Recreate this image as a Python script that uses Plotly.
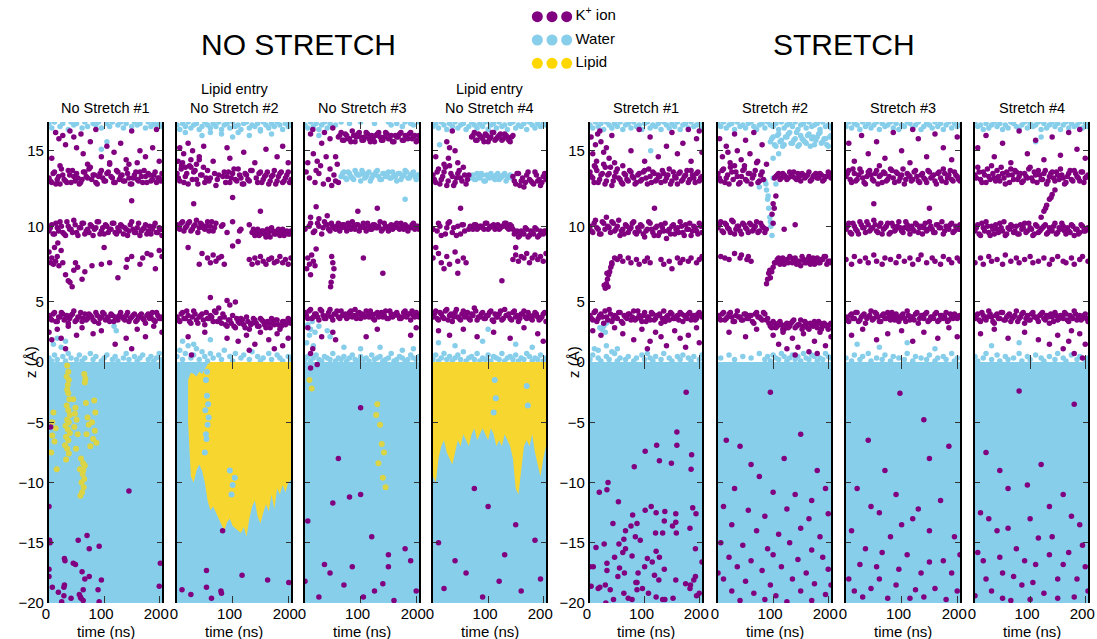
import plotly.graph_objects as go

FONT = "Liberation Sans, Arial, sans-serif"
ION = "#800080"
WATER = "#87CEEB"
LIPID = "#FFD700"
W, H = 1097, 639

# ---------------- data ----------------
T_GRID = [0, 5, 10, 15, 20, 25, 30, 35, 40, 45, 50, 55, 60, 65, 70, 75, 80, 85, 90, 95, 100,
          105, 110, 115, 120, 125, 130, 135, 140, 145, 150, 155, 160, 165, 170, 175, 180, 185, 190, 195, 200, 205]
T_GRID_B = [2.5, 7.5, 12.5, 17.5, 22.5, 27.5, 32.5, 37.5, 42.5, 47.5, 52.5, 57.5, 62.5, 67.5, 72.5, 77.5, 82.5,
            87.5, 92.5, 97.5, 102.5, 107.5, 112.5, 117.5, 122.5, 127.5, 132.5, 137.5, 142.5, 147.5, 152.5, 157.5,
            162.5, 167.5, 172.5, 177.5, 182.5, 187.5, 192.5, 197.5, 202.5]
T_START, T_END = 0, 205
Z_BOTTOM, Z_INTERFACE = -20, 0
UPPER_Z = [1.03, 16.9]

PANEL_TITLES = ["No Stretch #1", "Lipid entry<br>No Stretch #2", "No Stretch #3", "Lipid entry<br>No Stretch #4",
                "Stretch #1", "Stretch #2", "Stretch #3", "Stretch #4"]
GROUP_TITLES = ["NO STRETCH", "STRETCH"]
LEGEND_LABELS = ["K<sup>+</sup> ion", "Water", "Lipid"]
X_TICKS = [0, 100, 200]

# ---- No Stretch #1 ----
NS1_W_TOP = [16.8, 16.5, 16.9, None, 16.6, 16.8, None, 16.4, 16.9, 16.7, 16.8, None, 16.5, 16.9, 16.6, None, 16.8, 16.7,
             16.9, 16.5, None, 16.8, 16.6, 16.9, None, 16.7, 16.9, 16.5, 16.8, None, 16.6, 16.9, 16.7, 16.8, None, 16.5,
             16.9, 16.6, 16.8, 16.7, 16.9, 16.6]
NS1_K13 = [13.2, 12.9, 13.6, 13.1, 12.8, 13.4, 13.0, 13.7, 12.9, 13.3, 13.5, 12.8, 13.1, 13.6, 13.2, 13.9, 13.4, 12.9,
           13.3, 13.7, 13.0, 13.5, 14.1, 13.2, 12.9, 13.6, 13.3, 13.0, 13.8, 13.2, 12.8, 13.4, 13.1, 13.6, 12.9, 13.3,
           13.5, 13.0, 13.4, 12.9, 13.2, 13.5]
NS1_K13B = [13.0, 13.5, 12.8, 13.3, 13.8, 13.1, 12.9, 13.4, 13.7, 13.0, 13.2, 12.9, 13.6, 13.3, 13.8, 13.1, 13.4, 12.8,
            13.5, 13.2, 13.0, 13.6, 13.3, 12.9, 13.7, 13.1, 13.4, 13.0, 13.5, 12.8, 13.2, 13.6, 13.0, 13.3, 13.7, 12.9,
            13.4, 13.1, 13.6, 13.2, 13.0]
NS1_K10 = [9.7, 10.1, 9.5, 9.9, 10.3, 9.6, 9.4, 10.0, 9.8, 10.4, 9.6, 9.9, 10.2, 9.5, 9.8, 10.1, 9.4, 9.9,
           10.3, 9.7, 9.5, 10.0, 9.8, 10.2, 9.6, 9.9, 10.1, 9.5, 9.8, 9.7, 10.3, 9.6, 9.9, 9.4, 9.8, 10.1,
           9.7, 9.5, 10.0, 9.6, 9.9, 9.4]
NS1_K10B = [9.9, 9.5, 10.2, 9.7, 10.0, 9.5, 10.3, 9.8, 9.6, 10.1, 9.4, 9.9, 10.2, 9.7, 9.6, 10.0, 9.8, 10.3,
            9.5, 9.9, 10.1, 9.6, 9.8, 10.2, 9.5, 9.7, 10.0, 9.9, 9.4, 10.1, 9.8, 9.6, 10.2, 9.7, 9.9, 9.5,
            10.0, 9.8, 10.2, 9.6, 9.8]
NS1_K4 = [4.1, 3.8, 4.3, 3.7, 4.0, 4.2, 3.9, 3.6, 4.1, 4.4, 3.8, 4.0, 3.7, 4.2, 3.9, 4.1, 3.8, 4.3,
          3.6, 4.0, 4.2, 3.9, 3.7, 4.1, 4.0, 3.8, 4.3, 3.9, 4.1, 3.7, 4.0, 4.2, 3.8, 4.1, 3.9, 3.6,
          4.2, 4.0, 3.8, 4.3, 3.9, 4.0]
NS1_K4B = [3.9, 4.2, 3.7, 4.0, 4.3, 3.8, 4.1, 3.9, 4.2, 3.7, 4.0, 4.3, 3.9, 3.8, 4.2, 4.0, 3.7, 4.1,
           3.9, 4.3, 3.8, 4.0, 4.2, 3.7, 3.9, 4.1, 4.0, 3.8, 4.3, 3.9, 4.1, 3.7, 4.0, 4.2, 3.8, 4.1,
           3.9, 4.3, 3.7, 4.1, 3.9]
NS1_W_BOT = [1.3, 1.1, 1.5, 1.2, None, 1.4, 1.1, 1.6, 1.3, None, 1.2, 1.5, 1.1, 1.3, None, 1.6, 1.2, 1.4,
             None, 1.1, 1.3, 1.5, None, 1.2, 1.4, 1.1, None, 1.3, 1.6, 1.2, None, 1.4, 1.1, 1.3, 1.5, None,
             1.2, 1.4, 1.1, 1.3, 1.6, 1.2]
NS1_K_UP = [(5, 14.5), (12, 16.2), (18, 15.8), (25, 16.0), (30, 15.4), (38, 16.3), (45, 15.9), (50, 15.2), (58, 16.1),
            (62, 14.8), (75, 15.6), (85, 16.4), (95, 14.6), (105, 15.3), (118, 14.9), (130, 15.5), (140, 14.4),
            (150, 16.3), (165, 15.0), (175, 14.6), (188, 15.2), (195, 16.4), (200, 14.3), (145, 14.1), (160, 14.2),
            (110, 14.2), (70, 14.1), (20, 14.0), (150, 11.7), (0, 8.3), (3, 7.6), (5, 7.9), (8, 7.5), (10, 8.6),
            (12, 7.7), (15, 8.0), (18, 7.4), (22, 8.4), (25, 7.6), (30, 6.8), (35, 6.4), (38, 6.3), (42, 6.0),
            (45, 7.1), (48, 7.6), (52, 7.3), (60, 6.5), (65, 7.0), (78, 7.4), (95, 7.5), (100, 8.6), (110, 7.6),
            (125, 6.6), (140, 7.3), (142, 7.8), (150, 8.0), (165, 7.5), (170, 7.9), (178, 8.2), (185, 8.1),
            (193, 7.2), (200, 8.4), (205, 8.0), (16, 8.9), (0, 3.0), (5, 2.5), (15, 3.2), (22, 2.6), (35, 3.4),
            (50, 2.8), (60, 3.3), (80, 2.9), (95, 3.1), (120, 2.2), (140, 2.6), (160, 3.2), (175, 2.7), (190, 3.4),
            (205, 3.0), (30, 1.9), (150, 1.9)]
NS1_W_UP = [(8, 2.2), (15, 2.6), (22, 2.0), (30, 2.4), (118, 3.4), (120, 3.8), (122, 3.1), (95, 15.1), (105, 15.6)]
NS1_K_LOW = [(3, -5.4), (0, -12.0), (1, -14.8), (2, -15.0), (53, -14.8), (69, -14.4), (73, -15.5), (91, -15.3),
             (145, -10.7), (202, -16.7), (200, -18.6), (28, -16.3), (29, -16.5), (44, -16.7), (48, -16.8),
             (0, -17.2), (0, -17.8), (60, -17.4), (65, -18.0), (73, -17.8), (95, -18.1), (6, -18.7), (28, -18.5),
             (27, -18.7), (62, -18.9), (89, -18.9), (17, -19.1), (27, -19.4), (55, -19.3), (57, -19.5), (58, -19.6),
             (40, -19.6), (91, -19.9), (23, -19.9), (62, -19.8)]
NS1_LIPID = [(33, -0.3), (35, -0.8), (32, -1.2), (36, -1.5), (34, -1.9), (33, -2.3), (35, -2.6), (37, -3.1),
             (32, -3.6), (35, -4.0), (38, -4.4), (33, -4.8), (36, -5.0), (30, -5.3), (34, -5.6), (38, -5.9),
             (31, -6.2), (35, -6.5), (29, -6.9), (33, -7.2), (36, -7.6), (31, -8.1), (8, -4.2), (12, -5.5),
             (6, -6.1), (10, -6.6), (4, -7.5), (14, -8.9), (6, -5.0), (44, -3.1), (48, -3.8), (50, -4.8),
             (46, -5.4), (52, -6.0), (49, -7.2), (47, -4.3), (58, -8.0), (62, -8.4), (56, -8.9), (61, -9.3),
             (64, -9.7), (59, -10.0), (63, -10.4), (60, -10.8), (57, -11.1), (62, -9.0), (65, -8.6), (64, -1.0),
             (66, -1.4), (65, -1.7), (67, -3.4), (70, -4.6), (72, -5.2), (68, -6.0), (80, -6.4), (84, -4.2),
             (83, -5.7), (82, -3.2), (86, -6.7), (75, -7.0), (78, -5.0)]

# ---- No Stretch #2 ----
NS2_W_TOP = [16.7, 16.4, 16.8, 16.6, 16.9, 16.5, 16.7, 16.8, 16.4, 16.6, 16.9, 16.7, 16.5, 16.8, 16.6, 16.9, 16.4, 16.7,
             16.8, 16.5, 16.9, 16.6, 16.7, 16.4, 16.8, 16.9, 16.5, 16.7, 16.6, 16.8, 16.4, 16.9, 16.7, 16.5, 16.8, 16.6,
             16.9, 16.7, 16.4, 16.8, 16.6, 16.9]
NS2_K13 = [13.5, 13.0, 14.2, 13.3, 12.8, 13.9, 13.6, 13.1, 14.4, 13.4, 12.9, 13.7, 13.2, None, 12.7, 13.4, None, 13.6,
           13.3, 12.9, 13.5, 13.1, 13.8, 13.2, 12.8, 13.4, 13.0, 13.7, None, 12.9, 13.6, 13.1, 13.4, 12.8, 13.3, 13.7,
           13.0, 13.5, 12.9, 13.2, 13.6, 13.1]
NS2_K13B = [13.2, 13.8, 12.9, 13.5, 14.0, 13.1, 13.7, 12.8, 13.4, 13.9, 13.2, 13.0, None, 13.5, 13.1, None, 13.3, 12.9,
            13.6, 13.2, 13.8, 13.0, 13.4, 12.8, 13.5, 13.1, 13.7, None, 13.2, 13.5, 12.9, 13.3, 13.6, 13.0, 13.4, 12.8,
            13.3, 13.6, 13.0, 13.4, 12.9]
NS2_K10 = [10.1, 9.8, 10.3, 9.9, 10.2, 9.7, 10.0, 10.4, 9.9, 10.1, 9.8, 10.3, 10.0, 9.7, 10.2, None, 10.0, None,
           9.6, None, 10.3, None, None, 9.8, None, None, 10.1, 9.6, 9.4, 9.8, 9.5, 9.7, 9.3, 9.6, 9.9, 9.5,
           9.7, 9.4, 9.8, 9.6, 9.5, 9.7]
NS2_K10B = [9.9, 10.2, 9.7, 10.0, 10.3, 9.8, 10.1, 9.6, 10.2, 9.9, 10.0, 9.7, 10.3, 9.9, None, None, 10.1, None,
            None, None, None, None, 9.7, None, None, None, None, 9.8, 9.6, 9.4, 9.7, 9.5, 9.8, 9.3, 9.7, 9.5,
            9.8, 9.6, 9.4, 9.7, 9.5]
NS2_K8 = [None, None, None, None, None, None, None, None, None, None, None, 7.9, 7.6, 8.1, 7.7, 7.9, 8.0, 7.5,
          None, None, None, None, None, None, None, None, 7.8, 7.5, 7.9, 7.6, 8.0, 7.7, 7.5, 7.8, 7.9, 7.6,
          7.7, 8.0, 7.6, 7.8, 7.5, 7.9]
NS2_K4 = [4.0, 3.7, 4.3, 3.9, 4.1, 3.6, 4.4, 3.8, 4.0, 4.2, 3.5, 3.9, 4.1, 3.7, 4.3, 4.6, 3.6, 4.0,
          3.4, 3.8, 4.1, 3.3, 3.7, 3.9, 3.5, 4.0, 3.2, 3.6, 3.8, 3.4, 3.9, 3.7, 3.3, 3.6, 3.9, 3.5,
          3.8, 3.2, 3.7, 3.5, 3.9, 3.6]
NS2_K4B = [3.8, 4.2, 3.9, 4.4, 3.7, 4.0, 4.2, 3.6, 4.1, 3.8, 4.3, 3.9, 4.0, 4.4, 3.7, 3.9, 4.2, 3.5,
           3.8, 3.6, 3.4, 3.9, 3.6, 3.8, 3.3, 3.7, 3.5, 3.9, 3.6, 3.4, 3.8, 3.5, 3.7, 3.3, 3.6, 3.8,
           3.5, 3.4, 3.7, 3.6, 3.8]
NS2_W_BOT = [1.4, 1.8, 1.2, 1.6, 2.1, 1.3, 1.5, 1.9, 1.2, 1.7, 1.4, 1.1, 1.6, 1.3, None, 1.5, 1.2, 1.8,
             None, 1.4, 1.1, 1.6, None, 1.3, 1.5, None, 1.2, 1.7, None, 1.4, 1.1, 1.3, None, 1.6, 1.2, None,
             1.5, 1.3, 1.1, None, 1.4, 1.2]
NS2_K_UP = [(2, 14.3), (5, 15.2), (8, 14.0), (12, 14.8), (15, 13.9), (20, 15.5), (25, 14.4), (28, 15.0), (35, 14.1),
            (40, 14.6), (48, 15.3), (65, 14.3), (90, 15.2), (95, 14.5), (120, 14.9), (140, 14.2), (160, 15.1),
            (180, 14.6), (200, 14.2), (190, 15.3), (30, 11.5), (100, 11.9), (150, 11.0), (20, 8.6), (45, 8.2),
            (100, 8.7), (110, 9.0), (40, 7.5), (90, 5.1), (95, 4.8), (105, 5.0), (60, 5.3), (20, 2.7), (50, 3.0),
            (90, 2.6), (110, 2.4), (125, 2.8), (140, 2.2), (150, 3.0), (165, 2.5), (180, 2.9), (190, 2.1),
            (200, 2.6), (130, 1.8), (175, 1.9), (26, 1.5)]
NS2_W_UP = [(45, 16.0), (60, 16.2), (80, 16.1), (100, 15.9), (110, 16.2), (130, 16.0), (150, 16.3), (15, 16.2),
            (170, 16.1), (10, 2.4), (30, 2.2), (60, 2.5)]
NS2_W_LOW = [(52, -1.5), (54, -2.8), (51, -4.0), (55, -5.2), (53, -6.4), (50, -7.5), (56, -3.5), (52, -6.0),
             (54, -0.8), (57, -4.6), (95, -9.0), (100, -10.2), (104, -9.6), (98, -11.0)]
NS2_K_LOW = [(82, -14.0), (53, -17.3), (117, -17.7), (163, -18.1), (201, -18.3), (9, -18.9), (53, -18.7),
             (79, -19.0), (80, -19.2), (25, -19.3), (62, -19.6)]
NS2_LIP_TOP = [None, None, None, None, -1.5, -0.9, -1.0, -1.2, -0.8, -1.0, -0.6, -0.2, 0, 0, 0, 0, 0, 0,
               0, 0, 0, 0, 0, 0, 0, 0, 0, 0, 0, 0, 0, 0, 0, 0, 0, 0,
               0, 0, 0, 0, 0, 0]
NS2_LIP_BOT = [None, None, None, None, -5.0, -9.5, -10.0, -9.0, -8.5, -9.0, -10.0, -11.5, -12.3, -12.0, -12.5, -13.0,
               -13.5, -14.0, -13.3, -13.0, -13.6, -13.8, -14.0, -14.2, -13.7, -14.5, -13.0, -12.0, -11.5, -12.8,
               -13.4, -12.5, -11.8, -12.4, -11.0, -12.2, -10.5, -11.0, -10.2, -10.8, -10.0, -9.8]

# ---- No Stretch #3 ----
NS3_W_TOP = [16.7, 16.5, 16.9, 16.6, 16.8, 16.4, 16.7, 16.9, 16.5, 16.8, 16.6, 16.7, None, 16.9, None, None, 16.8, None,
             None, None, 16.9, None, None, None, None, 16.8, None, None, None, None, 16.9, 16.7, None, 16.8, None, 16.6,
             16.9, None, 16.8, 16.7, None, 16.9]
NS3_K16 = [None, None, None, None, None, None, None, None, None, None, None, None, 15.9, 16.2, 15.7, 16.0, 15.8, 16.3,
           15.6, 16.1, 15.9, 15.7, 16.2, 15.8, 16.0, 15.6, 16.1, 15.9, 15.7, 16.2, 15.8, 16.0, 15.6, 15.9, 16.1, 15.7,
           16.0, 15.8, 16.2, 15.9, 15.6, 16.0]
NS3_K16B = [None, None, None, None, None, None, None, None, None, None, None, None, 16.0, 15.7, 16.1, 15.8, 15.6, 16.0,
            15.9, 16.2, 15.7, 15.9, 16.1, 15.6, 15.8, 16.0, 16.2, 15.7, 15.9, 16.1, 15.8, 15.6, 16.0, 15.9, 16.2, 15.7,
            15.9, 16.1, 15.8, 16.0, 15.7]
NS3_W13 = [None, None, None, None, None, None, None, None, None, None, None, None, None, 13.3, 13.6, 13.1, 13.5, 13.2,
           13.7, 13.4, 13.0, 13.5, 13.3, 13.6, 13.2, 13.4, 13.7, 13.1, 13.5, 13.3, 13.6, 13.2, 13.4, 13.0, 13.5, 13.3,
           13.7, 13.2, 13.4, 13.6, 13.1, 13.4]
NS3_W13B = [None, None, None, None, None, None, None, None, None, None, None, None, None, 13.5, 13.2, 13.6, 13.3, 13.1,
            13.5, 13.4, 13.7, 13.2, 13.5, 13.0, 13.4, 13.6, 13.3, 13.1, 13.5, 13.4, 13.2, 13.6, 13.3, 13.5, 13.1, 13.4,
            13.6, 13.2, 13.5, 13.3, 13.4]
NS3_K10 = [9.8, None, 10.2, 9.6, None, 10.0, 9.5, 10.3, 10.1, 9.7, 10.0, 9.8, 10.2, 9.9, 10.1, 9.7, 10.0, 10.3,
           9.8, 10.1, 9.9, 10.2, 9.7, 10.0, 9.8, 10.1, 9.9, 10.3, 9.8, 10.0, 9.7, 10.1, 9.9, 10.2, 9.8, 10.0,
           10.1, 9.7, 9.9, 10.2, 10.0, 9.8]
NS3_K10B = [None, 10.0, None, 9.7, 10.2, None, 9.9, 10.1, 9.8, 10.2, 9.9, 10.0, 9.7, 10.1, 9.9, 10.2, 9.8, 10.0,
            10.1, 9.7, 10.0, 9.9, 10.2, 9.8, 10.1, 9.9, 10.0, 9.7, 10.2, 9.9, 10.0, 9.8, 10.1, 9.9, 10.2, 9.8,
            10.0, 9.9, 10.1, 9.8, 10.0]
NS3_K4 = [4.3, 3.9, 4.5, 4.0, 4.2, 3.8, 4.4, 3.9, 4.1, 4.5, 3.8, 4.2, 4.0, 4.4, 4.1, 3.9, 4.3, 4.0,
          4.5, 4.2, 3.9, 4.1, 4.4, 4.0, 4.2, 3.8, 4.3, 4.1, 4.0, 4.4, 3.9, 4.2, 4.1, 4.3, 3.9, 4.0,
          4.4, 4.2, 3.8, 4.1, 4.3, 4.0]
NS3_K4B = [4.1, 4.4, 3.9, 4.2, 4.0, 4.5, 4.1, 3.9, 4.3, 4.0, 4.2, 4.4, 3.9, 4.1, 4.2, 4.0, 4.4, 4.1,
           3.9, 4.3, 4.2, 4.0, 4.1, 4.4, 3.9, 4.2, 4.0, 4.3, 4.1, 3.9, 4.4, 4.0, 4.2, 4.1, 3.9, 4.3,
           4.0, 4.2, 4.4, 4.0, 4.1]
NS3_W_BOT = [1.2, 1.4, 1.1, 1.3, 1.5, 1.2, 1.1, 1.4, 1.3, 1.2, 1.6, 1.1, 1.3, 1.2, 1.4, 1.1, 1.3, 1.5,
             1.2, 1.1, 1.4, 1.2, 1.3, 1.1, 1.5, 1.2, 1.3, 1.4, 1.1, 1.2, 1.3, 1.6, 1.1, 1.2, 1.4, 1.3,
             1.1, 1.2, 1.5, 1.3, 1.2, 1.4]
NS3_K_UP = [(10, 16.1), (14, 16.4), (30, 15.5), (35, 16.2), (45, 15.8), (50, 16.5), (55, 14.6), (5, 14.2), (15, 14.8),
            (22, 14.3), (28, 14.0), (38, 14.6), (45, 13.8), (52, 13.4), (58, 14.1), (2, 13.6), (8, 13.2), (18, 12.9),
            (25, 13.5), (33, 12.8), (42, 13.1), (48, 12.7), (55, 13.0), (60, 12.9), (20, 13.7), (20, 11.3),
            (95, 11.0), (130, 11.2), (10, 10.6), (25, 10.5), (40, 10.7), (5, 7.9), (8, 7.5), (12, 8.1), (15, 7.7),
            (18, 7.4), (3, 7.2), (10, 6.8), (48, 8.0), (50, 7.6), (52, 7.2), (50, 6.7), (47, 6.3), (46, 6.0),
            (105, 7.9), (140, 6.9), (20, 8.5), (5, 3.3), (30, 2.7), (50, 3.0), (55, 2.5), (110, 2.7), (130, 3.2),
            (190, 2.8), (200, 3.3), (10, 1.6), (14, 1.9)]
NS3_W_UP = [(5, 3.5), (10, 3.2), (13, 3.7), (18, 3.0), (8, 2.8), (25, 3.4), (40, 3.1), (45, 2.7), (3, 2.3), (15, 2.1),
            (100, 1.9), (135, 2.0), (175, 1.8), (195, 1.9), (70, 2.0), (180, 11.8), (25, 16.0)]
NS3_K_LOW = [(10, -0.5), (22, -0.2), (100, -3.8), (60, -8.0), (5, -13.2), (50, -11.7), (80, -11.2), (100, -11.0),
             (35, -16.8), (45, -17.5), (150, -16.0), (150, -17.0), (180, -15.5), (70, -18.5), (105, -19.5),
             (0, -18.2), (140, -18.4), (160, -19.8), (120, -14.5), (200, -19.0), (25, -19.5), (190, -16.5),
             (85, -17.0), (125, -19.0)]
NS3_LIPID = [(130, -3.5), (135, -5.2), (138, -6.8), (132, -8.4), (140, -9.6), (128, -4.4), (145, -10.4), (142, -7.5),
             (8, -1.5), (12, -2.2)]

# ---- No Stretch #4 ----
NS4_W_TOP = [16.6, 16.8, 16.5, 16.9, 16.7, 16.4, 16.8, 16.6, 16.9, 16.5, 16.7, 16.8, 16.4, 16.6, 16.9, 16.7, 16.5, 16.8,
             16.6, 16.9, 16.4, 16.7, 16.8, 16.5, 16.9, 16.6, 16.7, 16.4, 16.8, 16.9, 16.5, 16.7, 16.6, 16.8, 16.4, 16.9,
             16.7, 16.5, 16.8, 16.6, 16.9, 16.7]
NS4_K16 = [None, None, None, None, None, None, None, None, None, None, None, None, None, None, 15.9, 16.2, 15.7, 16.0,
           15.8, 16.1, 15.6, 15.9, 16.2, 15.8, 16.0, 15.7, 16.1, 15.9, 15.6, 16.0, None, None, None, None, None, None,
           None, None, None, None, None, None]
NS4_K16B = [None, None, None, None, None, None, None, None, None, None, None, None, None, None, 16.0, 15.7, 16.1, 15.9,
            15.6, 16.0, 15.8, 16.2, 15.7, 15.9, 16.1, 15.8, 16.0, 15.7, 15.9, None, None, None, None, None, None, None,
            None, None, None, None, None]
NS4_K13 = [13.4, 12.9, 13.8, 13.1, 13.6, 12.7, 14.0, 13.3, 12.9, 13.5, 13.2, 13.9, 12.8, 13.4, None, None, None, None,
           None, None, None, None, None, None, None, None, None, None, None, 13.3, 12.8, 13.5, 13.0, 12.6, 13.4, 13.1,
           12.9, 13.6, 13.0, 12.7, 13.3, 13.1]
NS4_K13B = [13.1, 13.6, 12.8, 13.3, 13.9, 13.0, 13.5, 12.7, 13.2, 13.7, 13.0, 13.4, 13.1, None, None, None, None, None,
            None, None, None, None, None, None, None, None, None, None, None, 13.0, 13.5, 12.7, 13.2, 12.9, 13.6, 13.0,
            12.8, 13.4, 13.1, 12.9, 13.5]
NS4_W13 = [None, None, None, None, None, None, None, None, None, None, None, None, None, None, 13.3, 13.1, 13.5, 13.2,
           13.4, 13.0, 13.3, 13.5, 13.2, 13.4, 13.1, 13.3, 13.5, 13.2, 13.4, None, None, None, None, None, None, None,
           None, None, None, None, None, None]
NS4_W13B = [None, None, None, None, None, None, None, None, None, None, None, None, None, 13.2, 13.4, 13.1, 13.3, 13.5,
            13.0, 13.4, 13.2, 13.3, 13.1, 13.5, 13.2, 13.4, 13.0, 13.3, 13.2, None, None, None, None, None, None, None,
            None, None, None, None, None]
NS4_K10 = [9.8, None, 10.2, 9.4, None, 9.9, 10.3, 9.6, None, 10.0, 9.5, 10.1, None, 9.8, 9.9, 10.1, 9.8, 10.0,
           9.9, 10.2, 9.8, 10.0, 10.1, 9.9, 9.8, 10.0, 10.2, 9.9, 10.1, 9.8, 9.6, 9.3, 9.7, 9.5, 9.8, 9.4,
           9.6, 9.9, 9.3, 9.7, 9.5, 9.6]
NS4_K10B = [None, 9.7, 10.0, None, 9.5, 10.2, None, 9.9, 9.4, None, 10.1, 9.7, None, 10.0, 9.8, 10.1, 9.9, 10.0,
            9.8, 10.2, 9.9, 10.0, 9.8, 10.1, 9.9, 10.0, 10.2, 9.8, 10.0, 9.5, 9.7, 9.4, 9.6, 9.9, 9.3, 9.7,
            9.5, 9.8, 9.4, 9.6, 9.7]
NS4_K8 = [7.9, None, 8.2, 7.6, None, 8.0, 7.5, None, 8.3, 7.7, None, 7.9, 7.6, None, None, None, None, None,
          None, None, None, None, None, None, None, None, None, None, None, 7.8, 8.1, 7.7, 8.0, 7.9, 8.2, 7.6,
          7.9, 8.1, 7.8, 8.0, 7.7, 8.2]
NS4_K4 = [4.0, 4.4, 3.8, 4.2, 3.9, 4.5, 4.1, 3.7, 4.3, 4.0, 3.8, 4.4, 4.1, 3.9, 4.2, 4.6, 3.8, 4.0,
          4.3, 3.9, 4.1, 4.4, 3.7, 4.0, 4.2, 3.8, 4.5, 4.1, 3.9, 4.3, 4.0, 3.7, 4.2, 4.4, 3.9, 4.1,
          3.8, 4.3, 4.0, 3.9, 4.2, 3.7]
NS4_K4B = [4.2, 3.9, 4.3, 4.0, 4.4, 3.8, 4.2, 4.0, 4.5, 3.9, 4.2, 4.0, 4.3, 3.8, 4.1, 4.4, 4.0, 4.2,
           3.9, 4.1, 4.3, 3.8, 4.2, 4.0, 4.4, 3.9, 4.1, 4.2, 3.8, 4.4, 4.1, 3.9, 4.2, 4.0, 4.3, 3.9,
           4.1, 4.2, 3.8, 4.0, 4.3]
NS4_W_BOT = [1.2, 1.5, 1.1, 1.3, 1.6, 1.2, 1.4, 1.1, 1.3, 1.5, 1.2, 1.7, 1.1, 1.3, 1.4, 1.2, 1.6, 1.1,
             1.3, 1.2, 1.5, 1.1, 1.4, 1.3, 1.2, 1.6, 1.1, 1.3, 1.4, 1.2, 1.5, 1.1, 1.3, 1.2, 1.6, 1.4,
             1.1, 1.3, 1.2, 1.5, 1.1, 1.3]
NS4_K_UP = [(35, 16.3), (25, 15.6), (30, 15.2), (40, 15.0), (28, 14.5), (20, 14.1), (5, 14.6), (45, 14.2), (50, 11.2),
            (5, 8.6), (20, 7.2), (45, 6.9), (125, 6.4), (150, 8.6), (10, 3.1), (30, 2.8), (55, 3.2), (80, 2.7),
            (110, 3.0), (140, 2.6), (165, 3.3), (190, 2.9), (200, 2.4)]
NS4_W_UP = [(10, 2.3), (40, 2.1), (90, 2.4), (150, 2.2), (180, 2.0), (100, 3.2), (12, 15.4)]
NS4_W_LOW = [(112, -1.5), (114, -3.0), (110, -4.2), (170, -2.0), (172, -3.6)]
NS4_K_LOW = [(75, -10.5), (100, -12.0), (150, -13.5), (185, -14.8), (40, -16.5), (60, -17.5), (120, -18.2),
             (160, -19.0), (90, -19.5), (20, -18.8), (195, -18.0), (130, -16.0), (10, -15.0)]
NS4_LIP_TOP = [0, 0, 0, 0, 0, 0, 0, 0, 0, 0, 0, 0, 0, 0, 0, 0, 0, 0,
               0, 0, 0, 0, 0, 0, 0, 0, 0, 0, 0, 0, 0, 0, 0, 0, 0, 0,
               0, 0, 0, 0, 0, 0]
NS4_LIP_BOT = [-9.5, -10.0, -8.0, -7.0, -6.5, -7.5, -8.0, -8.5, -7.5, -6.5, -7.0, -6.0, -6.5, -7.0, -6.0, -5.5,
               -6.5, -6.0, -5.5, -6.0, -6.5, -5.5, -6.0, -7.0, -6.5, -7.0, -6.0, -6.5, -7.0, -8.0, -10.5, -11.0,
               -9.0, -7.0, -6.5, -7.0, -6.0, -7.5, -8.5, -9.5, -8.0, -7.0]

# ---- Stretch #1 ----
S1_W_TOP = [16.7, 16.5, 16.9, 16.6, 16.8, 16.4, 16.9, 16.7, 16.5, 16.8, 16.6, 16.9, 16.4, 16.7, 16.8, 16.5, 16.9, 16.6,
            16.7, 16.4, 16.8, 16.9, 16.5, 16.7, 16.6, 16.8, 16.4, 16.9, 16.7, 16.5, 16.8, 16.6, 16.9, 16.4, 16.7, 16.8,
            16.5, 16.9, 16.6, 16.7, 16.8, 16.5]
S1_K13 = [13.6, 13.2, 13.9, 12.9, 13.4, 14.1, 13.0, 13.5, 12.7, 13.3, 13.8, 13.1, 12.8, 13.4, 13.0, 13.6, 13.2, 12.9,
          13.5, 13.1, 13.7, 12.8, 13.3, 13.6, 13.0, 13.4, 12.9, 13.5, 13.2, 13.8, 13.0, 13.3, 12.8, 13.6, 13.1, 13.4,
          12.9, 13.7, 13.2, 13.5, 13.0, 13.3]
S1_K13B = [13.3, 12.9, 13.7, 13.1, 13.5, 12.8, 13.4, 13.9, 13.0, 13.6, 13.2, 12.9, 13.5, 13.1, 13.7, 13.3, 12.8, 13.4,
           13.0, 13.6, 13.2, 13.8, 12.9, 13.5, 13.1, 13.3, 13.7, 13.0, 13.4, 12.8, 13.6, 13.2, 13.5, 13.0, 13.3, 13.7,
           13.1, 13.4, 12.9, 13.6, 13.2]
S1_K10 = [10.0, 9.6, 10.4, 9.8, 9.5, 10.2, 10.6, 9.9, 10.3, 9.7, 10.0, 9.4, 9.8, 10.1, 9.6, 9.9, 10.3, 9.5,
          9.7, 10.0, 9.3, 9.8, 10.2, 9.6, 9.9, 9.4, 10.1, 9.7, 9.2, 9.8, 10.0, 9.5, 9.9, 10.3, 9.6, 10.1,
          9.8, 9.4, 10.0, 9.7, 10.2, 9.6]
S1_K10B = [9.7, 10.2, 9.9, 9.5, 10.3, 9.8, 10.0, 9.6, 10.2, 9.8, 10.4, 9.7, 9.5, 10.0, 9.8, 10.2, 9.6, 9.9,
           10.1, 9.5, 9.7, 10.3, 9.8, 9.4, 10.0, 9.6, 9.9, 10.2, 9.7, 9.5, 10.1, 9.8, 9.6, 10.0, 9.4, 9.8,
           10.2, 9.7, 9.9, 9.5, 10.0]
S1_K8 = [None, None, None, None, None, None, None, None, 7.6, 7.9, 7.8, 8.0, 7.7, None, 7.9, 7.6, None, 7.8,
         7.5, None, 7.7, 7.9, 7.6, None, None, None, 7.8, 7.5, None, 7.7, 7.2, None, 7.9, 7.6, 7.8, None,
         7.7, 7.9, None, 7.6, 7.8, 8.0]
S1_K4 = [4.1, 3.8, 4.4, 3.9, 4.2, 3.6, 4.0, 4.5, 3.7, 4.1, 3.9, 4.3, 3.6, 4.0, 4.2, 3.8, 4.4, 3.9,
         4.1, 3.7, 4.3, 4.0, 3.8, 4.2, 3.9, 4.1, 3.6, 4.4, 4.0, 3.8, 4.2, 3.9, 4.1, 4.3, 3.7, 4.0,
         4.2, 3.8, 4.1, 3.9, 4.3, 4.0]
S1_K4B = [3.9, 4.3, 3.7, 4.1, 4.0, 4.4, 3.8, 4.2, 3.9, 4.0, 4.3, 3.7, 4.1, 3.9, 4.2, 4.0, 3.8, 4.4,
          3.9, 4.1, 3.7, 4.0, 4.3, 3.8, 4.1, 4.2, 3.9, 3.7, 4.1, 4.3, 3.9, 4.0, 3.8, 4.2, 4.1, 3.9,
          4.3, 4.0, 3.8, 4.2, 4.1]
S1_W_BOT = [1.2, 1.5, None, 1.3, 1.1, None, 1.4, 1.2, None, 1.6, 1.1, 1.3, None, 1.2, 1.4, None, 1.1, 1.3,
            None, 1.5, 1.2, None, 1.3, 1.1, 1.4, None, 1.2, 1.6, None, 1.3, 1.1, None, 1.4, 1.2, 1.5, None,
            1.3, 1.1, 1.4, None, 1.2, 1.5]
S1_K_UP = [(2, 15.9), (5, 14.8), (10, 15.4), (14, 16.1), (18, 16.3), (20, 15.6), (25, 14.9), (30, 15.2), (35, 14.5),
           (12, 14.3), (40, 16.0), (45, 14.2), (8, 14.0), (28, 13.9), (110, 15.9), (125, 14.6), (140, 15.3),
           (150, 16.2), (160, 14.8), (170, 15.5), (180, 16.4), (185, 14.3), (195, 15.8), (200, 16.3), (205, 14.9),
           (90, 16.4), (100, 14.3), (75, 15.0), (60, 14.0), (118, 11.2), (28, 5.9), (30, 6.2), (32, 6.5), (34, 6.8),
           (36, 7.0), (38, 7.3), (40, 7.5), (26, 6.1), (33, 6.0), (31, 6.9), (5, 3.1), (20, 2.8), (45, 3.3),
           (60, 2.9), (80, 2.5), (95, 3.2), (110, 2.4), (120, 3.0), (130, 2.7), (140, 2.1), (155, 3.1), (165, 2.6),
           (180, 2.8), (195, 3.3), (200, 2.3), (105, 1.9), (175, 2.0)]
S1_W_UP = [(25, 3.4), (28, 3.0), (22, 3.2), (30, 3.6), (18, 3.3), (8, 1.9), (15, 1.8), (30, 2.1), (40, 1.7), (50, 1.9),
           (111, 15.0), (105, 1.6)]
S1_K_LOW = [(176, -2.5), (159, -5.8), (159, -6.9), (122, -6.9), (101, -7.4), (127, -8.2), (149, -8.4), (186, -7.7),
            (185, -8.9), (81, -8.7), (33, -10.0), (31, -10.6), (17, -10.8), (52, -11.6), (112, -12.0), (101, -12.3),
            (121, -12.5), (137, -12.4), (157, -12.6), (188, -12.1), (194, -12.6), (78, -12.7), (86, -13.4),
            (42, -13.4), (75, -13.6), (65, -14.0), (136, -13.2), (157, -13.3), (151, -13.6), (183, -13.8),
            (158, -14.2), (133, -14.2), (120, -14.2), (83, -14.5), (92, -14.8), (62, -14.7), (53, -15.1), (26, -15.1),
            (11, -15.4), (60, -15.8), (121, -15.7), (193, -15.5), (77, -16.1), (105, -16.3), (114, -16.6),
            (127, -16.2), (65, -15.5), (45, -16.2), (31, -16.7), (6, -17.0), (0, -17.0), (100, -17.0), (54, -17.1),
            (136, -17.2), (31, -17.3), (205, -16.6), (63, -17.5), (51, -17.8), (118, -17.7), (88, -17.5),
            (126, -18.1), (157, -18.1), (84, -18.3), (86, -18.3), (193, -17.8), (190, -18.1), (175, -18.4),
            (184, -18.5), (183, -18.8), (2, -18.6), (15, -18.8), (18, -18.7), (28, -18.5), (37, -18.9), (43, -19.7),
            (29, -20.0), (62, -19.2), (70, -19.6), (77, -19.7), (86, -18.9), (96, -18.8), (107, -19.2), (121, -19.5),
            (133, -19.7), (137, -19.7), (152, -19.6), (195, -19.4), (200, -19.2)]

# ---- Stretch #2 ----
S2_W_TOP = [16.8, 16.6, 16.9, 16.5, 16.7, 16.8, 16.4, 16.9, 16.6, 16.7, 16.5, 16.8, 16.9, 16.6, 16.4, 16.7, 16.8, 16.5,
            16.9, 16.7, 16.6, 16.8, 16.4, 16.9, 16.5, 16.7, 16.8, 16.6, 16.9, 16.4, 16.7, 16.8, 16.5, 16.9, 16.6, 16.7,
            16.8, 16.4, 16.9, 16.6, 16.7, 16.5]
S2_W16 = [None, None, None, None, None, None, None, None, None, None, None, None, None, None, None, None, None, None,
          None, 15.6, 15.9, 15.3, 16.1, 15.7, 15.4, 15.9, 16.2, 15.5, 15.8, 15.3, 16.0, 15.7, 15.5, 16.1, 15.8, 15.4,
          15.9, 16.2, 15.6, 15.8, 15.3, 16.0]
S2_W16B = [None, None, None, None, None, None, None, None, None, None, None, None, None, None, None, None, None, None,
           None, 15.8, 15.4, 16.0, 15.6, 15.3, 15.9, 16.1, 15.5, 15.7, 16.2, 15.4, 15.8, 15.6, 16.0, 15.3, 15.9, 15.7,
           16.1, 15.5, 15.8, 15.4, 15.9]
S2_K13 = [13.5, 13.0, 13.8, 13.2, 12.8, 13.6, 14.0, 13.3, 12.9, 13.7, 13.1, 13.5, 12.8, 13.4, 14.2, 13.0, 13.6, None,
          None, None, None, 13.3, 13.5, 13.2, 13.4, 13.1, 13.6, 13.3, 13.2, 13.5, 13.0, 13.4, 13.3, 13.6, 13.1, 13.4,
          13.2, 13.5, 13.0, 13.3, 13.6, 13.2]
S2_K13B = [13.2, 13.7, 12.9, 13.4, 13.9, 13.1, 13.6, 12.8, 13.3, 13.8, 13.0, 13.5, 13.2, 13.7, 12.9, 13.4, 13.1, None,
           None, None, 13.2, 13.4, 13.1, 13.5, 13.3, 13.2, 13.4, 13.6, 13.1, 13.3, 13.5, 13.2, 13.4, 13.0, 13.3, 13.5,
           13.2, 13.4, 13.1, 13.3, 13.5]
S2_K10 = [9.9, 10.3, 9.6, 10.1, 9.8, 10.4, 9.5, 10.0, 9.7, 10.2, 9.9, 9.6, 10.1, 9.8, 10.3, 9.7, 10.0, 9.6,
          None, None, 10.2, None, None, None, 9.8, None, None, None, 10.1, None, None, None, None, None, None, None,
          None, None, None, None, None, None]
S2_K10B = [10.1, 9.7, 10.2, 9.9, 9.6, 10.3, 9.8, 10.0, 9.5, 10.1, 9.8, 10.2, 9.7, 10.0, 9.6, 10.2, 9.9, 9.8,
           None, None, None, None, None, None, None, None, None, None, None, None, None, None, None, None, None, None,
           None, None, None, None, None]
S2_K8 = [None, 8.0, None, None, 7.8, None, 8.2, None, 7.9, None, None, 8.0, 7.7, None, None, None, None, None,
         None, 6.6, 7.3, 7.6, 7.9, 7.7, 7.5, 7.8, 8.0, 7.6, 7.9, 7.7, 7.4, 7.8, 7.6, 8.0, 7.7, 7.5,
         7.9, 7.6, 7.8, 8.0, 7.7, 7.6]
S2_K8B = [None, None, 7.9, None, None, None, None, None, 8.1, None, 7.8, None, None, None, None, None, None, None,
          None, 7.0, 7.6, 7.8, 7.5, 7.9, 7.7, 7.6, 7.9, 7.8, 7.5, 7.7, 8.0, 7.6, 7.8, 7.5, 7.9, 7.7,
          7.6, 7.8, 8.0, 7.5, 7.7]
S2_K4 = [4.1, 3.8, 4.3, 3.9, 4.2, 4.0, 3.7, 4.4, 4.0, 3.8, 4.2, 3.9, 4.1, 3.6, 4.3, 4.0, 3.8, 4.2,
         3.9, 3.4, 3.7, 3.3, 3.6, 3.5, 3.2, 3.6, 3.4, 3.7, 3.3, 3.5, 3.8, 3.4, 3.6, 3.2, 3.5, 3.7,
         3.3, 3.6, 3.4, 3.5, 3.2, 3.6]
S2_K4B = [3.9, 4.2, 3.8, 4.0, 4.3, 3.7, 4.1, 4.0, 3.8, 4.2, 3.9, 4.1, 3.7, 4.2, 4.0, 3.9, 4.3, 3.8,
          3.6, 3.3, 3.6, 3.4, 3.7, 3.2, 3.5, 3.3, 3.6, 3.8, 3.4, 3.5, 3.2, 3.7, 3.3, 3.6, 3.4, 3.5,
          3.7, 3.2, 3.6, 3.4, 3.5]
S2_W_BOT = [None, 1.3, None, None, 1.5, None, 1.2, None, None, 1.4, None, None, 1.3, None, None, 1.6, None, 1.2,
            1.4, 1.1, 1.5, 1.3, 1.2, 1.6, 1.4, 1.1, 1.3, 1.5, 1.2, 1.4, 1.1, 1.6, 1.3, 1.2, 1.5, 1.4,
            1.1, 1.3, 1.2, 1.6, 1.4, 1.3]
S2_K_UP = [(3, 15.8), (8, 14.6), (15, 15.3), (22, 14.2), (30, 16.1), (35, 15.0), (42, 14.4), (50, 15.7), (58, 14.8),
           (65, 16.2), (72, 14.3), (80, 15.4), (88, 14.1), (18, 14.9), (48, 14.0), (90, 6.5), (92, 6.9), (94, 7.1),
           (88, 6.2), (100, 11.5), (105, 12.0), (98, 10.8), (102, 11.2), (100, 2.8), (110, 2.2), (118, 3.0),
           (125, 1.9), (135, 2.6), (145, 2.0), (155, 2.9), (165, 1.7), (175, 2.4), (185, 3.0), (195, 2.1), (205, 2.7),
           (140, 1.5), (180, 1.6), (20, 3.0), (50, 2.7), (70, 3.2)]
S2_W_UP = [(85, 13.0), (88, 12.4), (90, 11.8), (92, 11.2), (94, 10.6), (96, 10.0), (98, 9.4), (87, 12.8), (91, 12.0),
           (95, 10.3), (80, 13.6), (75, 12.6), (100, 13.2), (105, 12.8), (100, 14.5), (110, 14.8)]
S2_K_LOW = [(95, -2.5), (15, -6.5), (40, -7.0), (150, -6.0), (120, -8.0), (75, -9.5), (180, -9.0), (30, -10.5),
            (100, -10.8), (140, -11.0), (195, -10.5), (10, -12.0), (55, -12.3), (85, -12.8), (125, -12.2),
            (165, -13.0), (200, -12.6), (25, -13.5), (70, -14.0), (110, -14.3), (150, -13.8), (185, -14.5), (5, -15.0),
            (45, -15.2), (90, -15.5), (130, -15.0), (170, -15.6), (20, -16.2), (60, -16.5), (100, -16.0),
            (145, -16.4), (190, -16.2), (35, -17.0), (80, -17.3), (115, -17.0), (160, -17.5), (200, -17.2),
            (10, -18.0), (50, -18.2), (95, -18.5), (135, -18.0), (175, -18.4), (25, -19.0), (65, -19.2),
            (105, -19.4), (150, -19.0), (195, -19.3), (40, -19.8), (85, -19.7), (125, -19.9), (170, -19.8),
            (0, -17.5), (205, -18.5), (60, -8.5), (170, -11.5)]

# ---- Stretch #3 ----
S3_W_TOP = [16.6, 16.9, 16.5, 16.8, 16.7, 16.4, 16.9, 16.6, 16.8, 16.5, 16.7, 16.9, 16.4, 16.8, 16.6, 16.7, 16.9, 16.5,
            16.8, 16.4, 16.7, 16.6, 16.9, 16.8, 16.5, 16.7, 16.9, 16.4, 16.6, 16.8, 16.7, 16.5, 16.9, 16.6, 16.8, 16.4,
            16.7, 16.9, 16.5, 16.8, 16.6, 16.7]
S3_K13 = [13.3, 13.7, 12.9, 13.5, 13.1, 13.8, 13.2, 12.8, 13.6, 13.4, 13.0, 13.7, 13.3, 12.9, 13.5, 13.1, 13.8, 13.2,
          13.6, 13.0, 13.4, 12.8, 13.5, 13.3, 13.1, 13.7, 13.0, 13.4, 13.2, 12.9, 13.6, 13.3, 13.0, 13.5, 13.2, 13.8,
          12.9, 13.4, 13.1, 13.6, 13.3, 13.0]
S3_K13B = [13.5, 13.1, 13.8, 13.0, 13.4, 13.6, 12.9, 13.3, 13.7, 13.1, 13.5, 12.8, 13.4, 13.6, 13.0, 13.3, 13.7, 12.9,
           13.5, 13.2, 13.8, 13.1, 13.4, 13.0, 13.6, 13.3, 12.9, 13.5, 13.1, 13.7, 13.2, 13.4, 12.8, 13.6, 13.0, 13.5,
           13.2, 13.7, 13.0, 13.4, 13.1]
S3_K10 = [9.8, 10.2, 9.5, 10.0, 9.7, 10.3, 9.9, 9.6, 10.1, 9.8, 10.4, 9.7, 10.0, 9.5, 9.9, 10.2, 9.6, 10.0,
          9.8, 10.3, 9.7, 9.9, 10.1, 9.5, 9.8, 10.2, 9.6, 10.0, 9.9, 9.7, 10.3, 9.8, 9.6, 10.1, 9.9, 9.5,
          10.0, 9.8, 10.2, 9.7, 9.9, 10.1]
S3_K10B = [10.0, 9.6, 10.2, 9.8, 9.5, 10.1, 9.9, 10.3, 9.7, 9.9, 10.1, 9.6, 10.2, 9.8, 10.0, 9.5, 10.2, 9.7,
           10.0, 9.9, 9.6, 10.3, 9.8, 10.0, 9.7, 10.1, 9.9, 9.5, 10.2, 9.8, 10.0, 9.6, 10.1, 9.9, 10.3, 9.7,
           9.9, 10.1, 9.6, 10.0, 9.8]
S3_K8 = [7.8, None, 7.5, 8.0, None, 7.7, None, 7.9, 7.6, None, 8.1, 7.7, None, 7.5, 7.9, None, 7.8, None,
         7.6, 8.0, None, 7.7, None, 7.9, 7.5, None, 7.8, 8.1, None, 7.6, None, 7.9, 7.7, None, 7.5, 8.0,
         None, 7.8, 7.6, None, 7.9, 7.7]
S3_K4 = [4.0, 3.7, 4.2, 3.9, 4.3, 3.8, 4.1, 3.6, 4.0, 4.4, 3.9, 4.2, 3.7, 4.1, 3.9, 4.3, 3.8, 4.0,
         4.2, 3.7, 4.1, 3.9, 4.4, 3.8, 4.0, 4.2, 3.6, 4.1, 3.9, 4.3, 3.8, 4.0, 4.2, 3.7, 4.1, 3.9,
         4.3, 3.8, 4.0, 4.2, 3.9, 4.1]
S3_K4B = [3.8, 4.1, 3.9, 4.3, 3.7, 4.0, 4.2, 3.9, 4.1, 3.8, 4.3, 4.0, 3.7, 4.2, 3.9, 4.1, 4.3, 3.8,
          4.0, 3.9, 4.2, 3.7, 4.1, 4.0, 3.8, 4.3, 3.9, 4.1, 4.2, 3.7, 4.0, 3.9, 4.3, 3.8, 4.1, 4.0,
          3.7, 4.2, 3.9, 4.1, 4.0]
S3_W_BOT = [1.3, None, 1.1, 1.5, None, 1.2, 1.4, None, 1.6, 1.1, None, 1.3, None, 1.2, 1.5, None, 1.1, 1.4,
            None, 1.3, None, 1.2, 1.6, None, 1.1, 1.4, None, 1.3, None, 1.2, 1.5, None, 1.1, 1.3, None, 1.4,
            1.2, None, 1.6, 1.1, 1.3, None]
S3_K_UP = [(5, 15.5), (15, 14.3), (28, 16.0), (40, 14.8), (55, 15.6), (70, 14.5), (85, 16.2), (100, 15.0), (115, 14.2),
           (130, 15.8), (145, 14.6), (160, 16.1), (175, 15.2), (190, 14.4), (200, 15.9), (60, 14.0), (120, 16.4),
           (50, 11.5), (150, 11.2), (10, 2.8), (30, 3.2), (55, 2.5), (75, 2.9), (100, 3.1), (120, 2.4), (140, 3.0),
           (165, 2.6), (185, 3.3), (200, 2.7)]
S3_W_UP = [(20, 2.2), (60, 2.0), (110, 2.3), (160, 1.9)]
S3_K_LOW = [(97, -2.6), (140, -4.8), (40, -6.5), (150, -8.0), (20, -10.5), (90, -11.0), (170, -11.5), (60, -12.5),
            (120, -13.0), (10, -14.0), (80, -14.5), (150, -14.0), (195, -14.5), (35, -15.5), (110, -16.0),
            (175, -16.5), (55, -17.0), (135, -17.5), (5, -18.0), (90, -18.5), (160, -18.8), (30, -19.5), (115, -19.6),
            (200, -19.0), (70, -9.0), (185, -7.0), (45, -12.0), (100, -13.5), (130, -12.2), (25, -16.8), (65, -15.8),
            (95, -17.2), (150, -16.6), (190, -17.5), (15, -19.0), (45, -18.8), (75, -19.6), (125, -18.9),
            (180, -19.7), (205, -16.0), (60, -18.0), (140, -19.5)]

# ---- Stretch #4 ----
S4_W_TOP = [16.9, 16.6, 16.7, 16.4, 16.8, 16.5, 16.7, 16.9, 16.6, 16.8, 16.4, 16.7, 16.5, 16.9, 16.8, 16.6, 16.4, 16.7,
            16.9, 16.5, 16.8, 16.6, 16.7, 16.9, 16.4, 16.8, 16.5, 16.7, 16.9, 16.6, 16.8, 16.4, 16.7, 16.9, 16.5, 16.8,
            16.6, 16.7, 16.9, 16.5, 16.8, 16.6]
S4_K13 = [13.4, 13.9, 13.1, 13.6, 12.9, 13.3, 14.0, 13.2, 13.7, 13.0, 13.5, 12.8, 13.4, 13.8, 13.1, 13.6, 13.3, 12.9,
          13.5, 13.2, 13.9, 13.0, 13.4, 13.7, 13.1, 13.5, 12.8, 13.3, 13.6, 13.0, 13.4, 13.8, 13.2, 12.9, 13.5, 13.1,
          13.7, 13.3, 13.0, 13.6, 13.2, 13.4]
S4_K13B = [13.2, 13.6, 12.9, 13.4, 13.8, 13.1, 13.5, 13.0, 13.3, 13.9, 13.2, 13.6, 12.9, 13.4, 13.7, 13.1, 13.5, 13.0,
           13.3, 13.8, 13.2, 13.6, 12.9, 13.4, 13.1, 13.7, 13.0, 13.5, 13.2, 13.6, 13.1, 13.4, 12.8, 13.3, 13.7, 13.0,
           13.5, 13.2, 13.6, 12.9, 13.3]
S4_K10 = [9.7, 10.1, 9.4, 9.9, 10.3, 9.6, 10.0, 9.5, 9.8, 10.2, 9.7, 9.4, 9.9, 10.1, 9.6, 10.0, 9.5, 9.8,
          10.2, 9.7, 9.9, 9.4, 10.1, 9.6, 9.8, 10.0, 9.5, 9.9, 9.7, 10.2, 9.6, 9.8, 10.0, 9.5, 9.7, 10.1,
          9.4, 9.8, 9.6, 10.0, 9.7, 9.9]
S4_K10B = [9.9, 9.5, 10.2, 9.7, 10.0, 9.4, 9.8, 10.1, 9.6, 9.9, 10.3, 9.5, 9.8, 10.0, 9.7, 9.5, 10.1, 9.9,
           9.6, 10.2, 9.8, 9.5, 10.0, 9.7, 9.9, 10.1, 9.6, 9.8, 10.0, 9.5, 9.9, 10.2, 9.7, 9.9, 9.6, 10.0,
           9.8, 9.5, 10.1, 9.7, 9.8]
S4_K8 = [7.6, None, 7.9, 7.5, None, 8.0, 7.7, None, 7.8, None, 7.5, 8.1, None, 7.7, None, 7.9, 7.6, None,
         7.8, None, 8.0, 7.6, None, 7.7, None, 7.9, None, 7.5, 7.8, None, 8.0, None, 7.7, 7.6, None, 7.9,
         7.5, None, 7.8, 8.0, None, 7.7]
S4_K4 = [3.9, 4.2, 3.7, 4.1, 3.8, 4.4, 4.0, 3.6, 4.2, 3.9, 4.3, 3.8, 4.1, 3.7, 4.0, 4.4, 3.9, 4.2,
         3.6, 4.1, 3.8, 4.3, 4.0, 3.7, 4.2, 3.9, 4.1, 3.6, 4.0, 4.3, 3.8, 4.1, 3.9, 4.2, 3.7, 4.0,
         4.4, 3.8, 4.1, 3.9, 4.2, 3.7]
S4_K4B = [4.1, 3.8, 4.3, 3.9, 4.0, 4.2, 3.7, 4.1, 3.9, 4.3, 3.8, 4.0, 4.2, 3.9, 4.1, 3.7, 4.0, 4.3,
          3.9, 3.8, 4.2, 4.0, 3.9, 4.1, 4.3, 3.8, 4.0, 4.2, 3.7, 4.1, 3.9, 4.0, 4.3, 3.8, 4.1, 3.9,
          4.2, 4.0, 3.8, 4.1, 3.9]
S4_W_BOT = [1.4, 1.1, None, 1.3, 1.6, None, 1.2, None, 1.5, 1.1, None, 1.4, 1.2, None, 1.3, None, 1.6, 1.1,
            None, 1.4, 1.2, None, 1.5, None, 1.3, 1.1, None, 1.4, None, 1.2, 1.6, None, 1.3, 1.1, None, 1.5,
            None, 1.2, 1.4, None, 1.1, 1.3]
S4_K_UP = [(5, 15.2), (20, 16.0), (35, 14.6), (50, 15.5), (65, 14.2), (80, 16.3), (95, 14.8), (110, 15.7), (125, 14.4),
           (140, 15.9), (155, 14.7), (170, 16.2), (185, 15.1), (200, 14.5), (190, 16.4), (120, 10.6), (125, 11.0),
           (130, 11.4), (135, 11.8), (140, 12.1), (145, 12.4), (128, 11.2), (138, 11.9), (10, 2.9), (35, 3.2),
           (60, 2.6), (90, 3.0), (115, 2.5), (135, 2.2), (150, 2.8), (160, 1.9), (170, 2.4), (180, 1.6), (190, 2.9),
           (200, 2.2), (195, 1.3), (175, 3.1)]
S4_W_UP = [(110, 15.6), (120, 15.9), (30, 2.1), (80, 2.3)]
S4_K_LOW = [(80, -2.4), (180, -3.5), (20, -7.5), (120, -8.5), (60, -10.5), (160, -11.0), (10, -12.5), (100, -13.0),
            (190, -13.5), (40, -14.0), (140, -14.5), (75, -15.5), (170, -15.8), (15, -16.5), (110, -16.8),
            (200, -17.0), (50, -17.5), (150, -18.0), (85, -18.5), (30, -19.0), (125, -19.2), (180, -19.5),
            (65, -19.8), (45, -9.0), (95, -10.2), (135, -12.0), (175, -12.8), (25, -13.0), (60, -13.8), (115, -14.6),
            (195, -15.2), (5, -15.8), (45, -16.2), (90, -16.5), (135, -16.0), (160, -16.8), (20, -18.0), (70, -17.8),
            (105, -18.3), (185, -18.0), (0, -19.4), (50, -19.6), (100, -19.7), (150, -19.6), (205, -19.0)]

# ---------------- assembly ----------------
PANEL_DATA = [
    dict(up_water=[NS1_W_TOP, NS1_W_BOT], up_water_b=[], up_ion=[NS1_K13, NS1_K10, NS1_K4],
         up_ion_b=[NS1_K13B, NS1_K10B, NS1_K4B], up_ion_pts=NS1_K_UP, up_water_pts=NS1_W_UP, low_water=[],
         low_ion=NS1_K_LOW, lipid_pts=NS1_LIPID, lipid_env=None),
    dict(up_water=[NS2_W_TOP, NS2_W_BOT], up_water_b=[], up_ion=[NS2_K13, NS2_K10, NS2_K8, NS2_K4],
         up_ion_b=[NS2_K13B, NS2_K10B, NS2_K4B], up_ion_pts=NS2_K_UP, up_water_pts=NS2_W_UP, low_water=NS2_W_LOW,
         low_ion=NS2_K_LOW, lipid_pts=[], lipid_env=(NS2_LIP_TOP, NS2_LIP_BOT)),
    dict(up_water=[NS3_W_TOP, NS3_W13, NS3_W_BOT], up_water_b=[NS3_W13B], up_ion=[NS3_K16, NS3_K10, NS3_K4],
         up_ion_b=[NS3_K16B, NS3_K10B, NS3_K4B], up_ion_pts=NS3_K_UP, up_water_pts=NS3_W_UP, low_water=[],
         low_ion=NS3_K_LOW, lipid_pts=NS3_LIPID, lipid_env=None),
    dict(up_water=[NS4_W_TOP, NS4_W13, NS4_W_BOT], up_water_b=[NS4_W13B],
         up_ion=[NS4_K16, NS4_K13, NS4_K10, NS4_K8, NS4_K4], up_ion_b=[NS4_K16B, NS4_K13B, NS4_K10B, NS4_K4B],
         up_ion_pts=NS4_K_UP, up_water_pts=NS4_W_UP, low_water=NS4_W_LOW, low_ion=NS4_K_LOW, lipid_pts=[],
         lipid_env=(NS4_LIP_TOP, NS4_LIP_BOT)),
    dict(up_water=[S1_W_TOP, S1_W_BOT], up_water_b=[], up_ion=[S1_K13, S1_K10, S1_K8, S1_K4],
         up_ion_b=[S1_K13B, S1_K10B, S1_K4B], up_ion_pts=S1_K_UP, up_water_pts=S1_W_UP, low_water=[],
         low_ion=S1_K_LOW, lipid_pts=[], lipid_env=None),
    dict(up_water=[S2_W_TOP, S2_W16, S2_W_BOT], up_water_b=[S2_W16B], up_ion=[S2_K13, S2_K10, S2_K8, S2_K4],
         up_ion_b=[S2_K13B, S2_K10B, S2_K8B, S2_K4B], up_ion_pts=S2_K_UP, up_water_pts=S2_W_UP, low_water=[],
         low_ion=S2_K_LOW, lipid_pts=[], lipid_env=None),
    dict(up_water=[S3_W_TOP, S3_W_BOT], up_water_b=[], up_ion=[S3_K13, S3_K10, S3_K8, S3_K4],
         up_ion_b=[S3_K13B, S3_K10B, S3_K4B], up_ion_pts=S3_K_UP, up_water_pts=S3_W_UP, low_water=[],
         low_ion=S3_K_LOW, lipid_pts=[], lipid_env=None),
    dict(up_water=[S4_W_TOP, S4_W_BOT], up_water_b=[], up_ion=[S4_K13, S4_K10, S4_K8, S4_K4],
         up_ion_b=[S4_K13B, S4_K10B, S4_K4B], up_ion_pts=S4_K_UP, up_water_pts=S4_W_UP, low_water=[],
         low_ion=S4_K_LOW, lipid_pts=[], lipid_env=None),
]

# layout geometry (pixels)
PANEL_LEFT = [49, 177, 305, 433, 590, 718, 846, 975]
PANEL_RIGHT = [162, 291, 419, 546, 702, 831, 960, 1088]
UP_TOP, MID, LOW_BOT = 122, 362, 603
DOT = 5.5


def fx(p):
    return p / W


def fy(p):
    return 1 - p / H


fig = go.Figure()


def add_band(zs, grid, color, xa, ya):
    xs = [t for t, z in zip(grid, zs) if z is not None]
    ys = [z for t, z in zip(grid, zs) if z is not None]
    fig.add_trace(go.Scatter(x=xs, y=ys, mode="markers", xaxis=xa, yaxis=ya, hoverinfo="skip",
                             marker=dict(color=color, size=DOT, line=dict(width=0))))


def add_pts(pts, color, xa, ya, opacity=1.0, size=DOT):
    if not pts:
        return
    fig.add_trace(go.Scatter(x=[p[0] for p in pts], y=[p[1] for p in pts], mode="markers", xaxis=xa, yaxis=ya,
                             hoverinfo="skip", opacity=opacity,
                             marker=dict(color=color, size=size, line=dict(width=0))))


def add_envelope(top, bot, xa, ya):
    seg, segs = [], []
    for t, a, b in zip(T_GRID, top, bot):
        if a is None:
            if seg:
                segs.append(seg)
            seg = []
        else:
            seg.append((t, a, b))
    if seg:
        segs.append(seg)
    for s in segs:
        xs = [p[0] for p in s] + [p[0] for p in reversed(s)]
        ys = [p[1] for p in s] + [p[2] for p in reversed(s)]
        fig.add_trace(go.Scatter(x=xs, y=ys, mode="lines", fill="toself", xaxis=xa, yaxis=ya, hoverinfo="skip",
                                 line=dict(width=0, color=LIPID), fillcolor="rgb(248,214,48)"))


layout = dict(width=W, height=H, margin=dict(l=0, r=0, t=0, b=0, autoexpand=False), paper_bgcolor="white",
              plot_bgcolor="white", showlegend=False, hovermode=False,
              font=dict(family=FONT, size=15, color="black"))
annotations = []

for i, d in enumerate(PANEL_DATA):
    lo, up = 2 * i + 1, 2 * i + 2
    xlo, ylo, xup, yup = f"x{lo}", f"y{lo}", f"x{up}", f"y{up}"
    dom = [fx(PANEL_LEFT[i]), fx(PANEL_RIGHT[i])]
    show_y = i in (0, 4)
    xcommon = dict(domain=dom, range=[T_START, T_END], tickvals=X_TICKS, ticks="inside",
                   ticklen=7, tickwidth=1.3, tickcolor="#333", showgrid=False, zeroline=False, showline=False,
                   mirror="ticks", tickfont=dict(size=15, family=FONT), ticklabeloverflow="allow",
                   ticklabelshift=-3)
    layout[f"xaxis{lo}"] = dict(xcommon, anchor=ylo, showticklabels=True)
    layout[f"xaxis{up}"] = dict(xcommon, anchor=yup, showticklabels=False, matches=xlo)
    ycommon = dict(ticks="inside", ticklen=5, tickwidth=1.3, tickcolor="#333", showgrid=False, zeroline=False,
                   showline=True, linewidth=2.2, linecolor="black", mirror="ticks", showticklabels=show_y,
                   tickfont=dict(size=15, family=FONT))
    layout[f"yaxis{lo}"] = dict(ycommon, anchor=xlo, domain=[fy(LOW_BOT), fy(MID)], range=[Z_BOTTOM, Z_INTERFACE],
                                tickvals=[-20, -15, -10, -5, 0])
    layout[f"yaxis{up}"] = dict(ycommon, anchor=xup, domain=[fy(MID), fy(UP_TOP)], range=UPPER_Z,
                                tickvals=[5, 10, 15])

    # lower half: water slab, lipids, ions
    fig.add_trace(go.Scatter(x=[T_START, T_END, T_END, T_START], y=[Z_INTERFACE, Z_INTERFACE, Z_BOTTOM, Z_BOTTOM],
                             mode="lines", fill="toself", fillcolor=WATER, line=dict(width=0, color=WATER),
                             xaxis=xlo, yaxis=ylo, hoverinfo="skip"))
    if d["lipid_env"]:
        add_envelope(d["lipid_env"][0], d["lipid_env"][1], xlo, ylo)
    add_pts(d["low_water"], WATER, xlo, ylo, size=6)
    add_pts(d["lipid_pts"], LIPID, xlo, ylo, opacity=0.7, size=6)
    add_pts(d["low_ion"], ION, xlo, ylo)

    # upper half
    for zs in d["up_water"]:
        add_band(zs, T_GRID, WATER, xup, yup)
    for zs in d["up_water_b"]:
        add_band(zs, T_GRID_B, WATER, xup, yup)
    add_pts(d["up_water_pts"], WATER, xup, yup)
    for zs in d["up_ion"]:
        add_band(zs, T_GRID, ION, xup, yup)
    for zs in d["up_ion_b"]:
        add_band(zs, T_GRID_B, ION, xup, yup)
    add_pts(d["up_ion_pts"], ION, xup, yup)

    cx = (PANEL_LEFT[i] + PANEL_RIGHT[i]) / 2
    annotations.append(dict(text=PANEL_TITLES[i], x=fx(cx), y=fy(118), xref="paper", yref="paper",
                            xanchor="center", yanchor="bottom", showarrow=False, font=dict(size=14.5, family=FONT)))
    annotations.append(dict(text="time (ns)", x=fx(cx), y=fy(631), xref="paper", yref="paper",
                            xanchor="center", yanchor="middle", showarrow=False, font=dict(size=15, family=FONT)))

# group titles and y titles
for txt, cx in zip(GROUP_TITLES, [298, 844]):
    annotations.append(dict(text=txt, x=fx(cx), y=fy(44), xref="paper", yref="paper", xanchor="center",
                            yanchor="middle", showarrow=False, font=dict(size=30, family=FONT)))
for cx in [30, 573]:
    annotations.append(dict(text="z (Å)", x=fx(cx), y=fy(362), xref="paper", yref="paper", xanchor="center",
                            yanchor="middle", textangle=-90, showarrow=False, font=dict(size=15, family=FONT)))

# legend (three dots per entry)
LEG = 17
layout[f"xaxis{LEG}"] = dict(domain=[fx(530), fx(640)], range=[0.5, 8], visible=False, anchor=f"y{LEG}")
layout[f"yaxis{LEG}"] = dict(domain=[fy(75), fy(5)], range=[0.5, 3.5], visible=False, anchor=f"x{LEG}")
for row, (lab, col) in enumerate(zip(LEGEND_LABELS, [ION, WATER, LIPID])):
    yv = 3 - row
    fig.add_trace(go.Scatter(x=[1, 2, 3], y=[yv] * 3, mode="markers", marker=dict(color=col, size=11),
                             xaxis=f"x{LEG}", yaxis=f"y{LEG}", hoverinfo="skip"))
    fig.add_trace(go.Scatter(x=[3.6], y=[yv], mode="text", text=[lab], textposition="middle right",
                             textfont=dict(size=15, family=FONT), xaxis=f"x{LEG}", yaxis=f"y{LEG}",
                             hoverinfo="skip"))

layout["annotations"] = annotations
fig.update_layout(**layout)
fig.write_html("out.html", config={"displayModeBar": False},
               post_script="document.body.style.margin='0px';")
